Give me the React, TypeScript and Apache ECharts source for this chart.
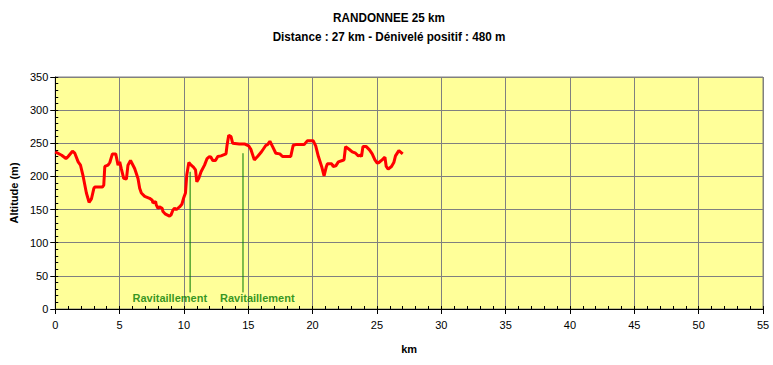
import { useEffect, useRef } from "react";
import * as echarts from "echarts";

const distanceKm = [
  0, 0.5, 0.83, 1.0, 1.34, 1.52, 1.78, 1.96, 2.17, 2.42,
  2.63, 2.81, 3.0, 3.07, 3.66, 3.77, 3.85, 4.1, 4.24, 4.44,
  4.7, 4.88, 5.01, 5.14, 5.32, 5.53, 5.65, 5.85, 6.17, 6.43,
  6.56, 6.69, 6.95, 7.33, 7.54, 7.59, 7.8, 7.85, 7.98, 8.1,
  8.31, 8.37, 8.57, 8.88, 9.0, 9.14, 9.27, 9.4, 9.66, 9.84,
  9.97, 10.12, 10.22, 10.38, 10.56, 10.74, 10.9, 11.0, 11.15, 11.33,
  11.6, 11.8, 11.98, 12.1, 12.24, 12.45, 12.63, 12.88, 13.27, 13.35,
  13.48, 13.66, 13.79, 14.3, 14.7, 15.03, 15.2, 15.47, 15.72, 15.98,
  16.16, 16.37, 16.5, 16.68, 16.89, 17.14, 17.45, 17.66, 18.3, 18.49,
  18.69, 19.34, 19.6, 20.04, 20.24, 20.45, 20.7, 20.89, 21.07, 21.15,
  21.48, 21.6, 21.8, 22.0, 22.31, 22.44, 22.56, 22.83, 23.08, 23.34,
  23.55, 23.73, 23.8, 23.91, 24.17, 24.42, 24.63, 24.84, 25.02, 25.15,
  25.4, 25.62, 25.72, 25.87, 26.13, 26.31, 26.44, 26.7, 27.0,
];

const altitudeM = [
  237, 232, 227, 230, 238, 235, 222, 217, 200, 175,
  161, 166, 182, 184, 184, 187, 215, 217, 221, 234,
  234, 217, 222, 211, 197, 196, 217, 224, 212, 197,
  182, 175, 170, 167, 164, 160, 162, 157, 152, 154,
  152, 147, 143, 140, 142, 149, 152, 150, 154, 158,
  167, 175, 202, 221, 217, 214, 210, 192, 197, 207,
  217, 227, 230, 229, 224, 224, 230, 231, 234, 247,
  262, 260, 250, 249, 249, 246, 241, 225, 230, 236,
  241, 247, 248, 253, 245, 235, 234, 230, 230, 247,
  248, 248, 254, 254, 246, 230, 215, 201, 215, 219,
  219, 215, 216, 222, 224, 225, 245, 241, 237, 235,
  231, 232, 230, 245, 245, 240, 234, 225, 220, 221,
  225, 229, 215, 211, 215, 221, 231, 239, 234,
];

const refuelKm = [10.48, 14.59];
const refuelTopM = [207, 235];
const refuelBaseM = 25;
const refuelLabelKm = [8.9, 15.7];
const refuelLabelM = 16;
const refuelLabel = "Ravitaillement";

const titleText = "RANDONNEE 25 km";
const subtitleText = "Distance : 27 km - Dénivelé positif : 480 m";
const xName = "km";
const yName = "Altitude (m)";
const xMin = 0;
const xMax = 55;
const xStep = 5;
const xMinorStep = 1;
const yMin = 0;
const yMax = 350;
const yStep = 50;
const yMinorStep = 10;

const FONT = 'Arial, "Liberation Sans", sans-serif';

export default function App() {
  const ref = useRef<HTMLDivElement>(null);

  useEffect(() => {
    document.body.style.margin = "0";
    const chart = echarts.init(ref.current!, null, { renderer: "svg" });

    const profile = distanceKm.map((d, i) => [d, altitudeM[i]]);

    const refuelSeries = refuelKm.map((k, i) => ({
      type: "line" as const,
      data: [
        [k, refuelBaseM],
        [k, refuelTopM[i]],
      ],
      symbol: "none",
      silent: true,
      lineStyle: { color: "#007A00", width: 1 },
      z: 3,
    }));

    const titleStyle = {
      fontFamily: FONT,
      fontWeight: "bold",
      fontSize: 13,
      fill: "#000",
      textAlign: "center",
      textVerticalAlign: "middle",
    };

    chart.setOption({
      animation: false,
      backgroundColor: "#ffffff",
      graphic: [
        {
          type: "text",
          x: 389,
          y: 18,
          scaleX: 0.9,
          style: { ...titleStyle, text: titleText },
        },
        {
          type: "text",
          x: 389,
          y: 37,
          scaleX: 0.9,
          style: { ...titleStyle, text: subtitleText },
        },
      ],
      grid: {
        left: 53,
        right: 10,
        top: 77,
        bottom: 56,
        show: true,
        backgroundColor: "#FFFF99",
        borderColor: "#808080",
        borderWidth: 1,
      },
      xAxis: [
        {
          type: "value",
          min: xMin,
          max: xMax,
          interval: xStep,
          name: xName,
          nameLocation: "middle",
          nameGap: 34,
          nameTextStyle: { fontFamily: FONT, fontWeight: "bold", fontSize: 11, color: "#000" },
          axisLine: { lineStyle: { color: "#000", width: 1 } },
          axisTick: { length: 5, lineStyle: { color: "#000" } },
          axisLabel: { margin: 10, fontFamily: FONT, fontSize: 11, color: "#000" },
          splitLine: { show: true, lineStyle: { color: "#808080", width: 1 } },
        },
        {
          type: "value",
          min: xMin,
          max: xMax,
          interval: xMinorStep,
          position: "bottom",
          axisLine: { show: false },
          axisTick: { inside: true, length: 3, lineStyle: { color: "#000" } },
          axisLabel: { show: false },
          splitLine: { show: false },
        },
      ],
      yAxis: [
        {
          type: "value",
          min: yMin,
          max: yMax,
          interval: yStep,
          name: yName,
          nameLocation: "middle",
          nameGap: 36,
          nameTextStyle: { fontFamily: FONT, fontWeight: "bold", fontSize: 11, color: "#000" },
          axisLine: { show: true, lineStyle: { color: "#000", width: 1 } },
          axisTick: { show: true, length: 5, lineStyle: { color: "#000" } },
          axisLabel: { margin: 7, fontFamily: FONT, fontSize: 11, color: "#000" },
          splitLine: { show: true, lineStyle: { color: "#808080", width: 1 } },
        },
        {
          type: "value",
          min: yMin,
          max: yMax,
          interval: yMinorStep,
          position: "left",
          axisLine: { show: false },
          axisTick: { show: true, inside: true, length: 3, lineStyle: { color: "#000" } },
          axisLabel: { show: false },
          splitLine: { show: false },
        },
      ],
      series: [
        {
          type: "line",
          data: profile,
          showSymbol: false,
          symbol: "none",
          lineStyle: { color: "#FF0000", width: 3 },
          z: 4,
        },
        ...refuelSeries,
        {
          type: "scatter",
          data: refuelLabelKm.map((k) => [k, refuelLabelM]),
          symbolSize: 0,
          silent: true,
          label: {
            show: true,
            position: "inside",
            formatter: refuelLabel,
            fontFamily: FONT,
            fontWeight: "bold",
            fontSize: 11,
            color: "#007A00",
          },
          z: 5,
        },
      ],
    });

    return () => chart.dispose();
  }, []);

  return <div ref={ref} style={{ width: 773, height: 365 }} />;
}
